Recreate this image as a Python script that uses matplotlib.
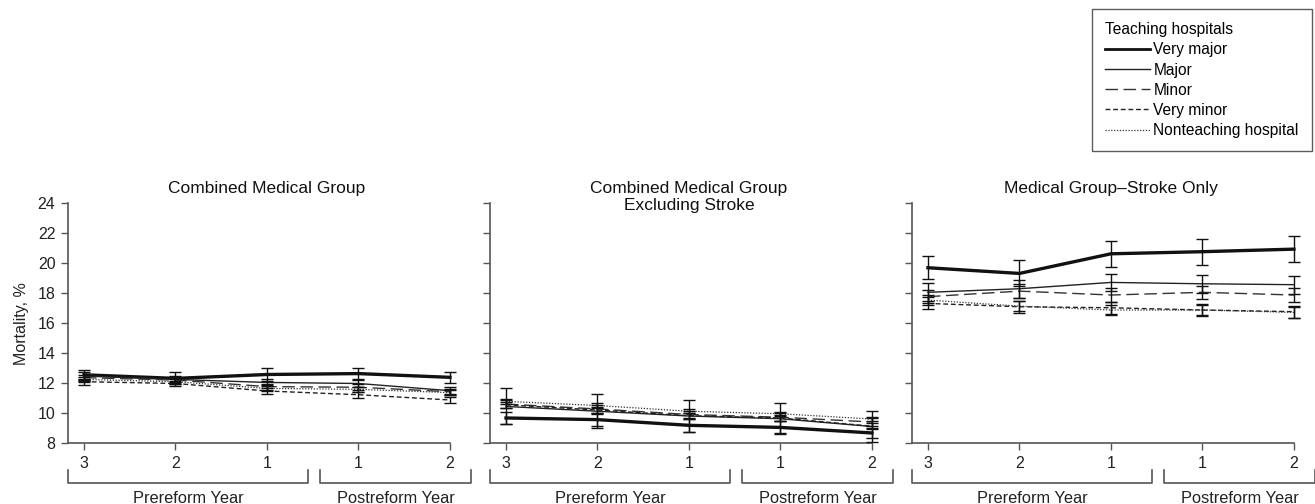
import numpy as np
import matplotlib.pyplot as plt
from matplotlib.lines import Line2D
import matplotlib.transforms as mtransforms

plt.rcParams['font.family'] = ['Liberation Sans', 'DejaVu Sans']

# Data
years = ['3', '2', '1', '1', '2']
groups = ['Very major', 'Major', 'Minor', 'Very minor', 'Nonteaching hospital']
titles = ['Combined Medical Group',
          'Combined Medical Group\nExcluding Stroke',
          'Medical Group\u2013Stroke Only']

# Combined Medical Group
p1_very_major = [12.55, 12.31, 12.57, 12.63, 12.38]
p1_major = [12.47, 12.24, 12.04, 11.97, 11.49]
p1_minor = [12.36, 12.20, 11.76, 11.72, 11.42]
p1_very_minor = [12.09, 11.97, 11.47, 11.22, 10.87]
p1_nonteaching = [12.24, 12.09, 11.64, 11.58, 11.36]
p1_err = [[0.35, 0.40, 0.42, 0.38, 0.37],
          [0.25, 0.20, 0.20, 0.22, 0.22],
          [0.20, 0.20, 0.20, 0.20, 0.20],
          [0.20, 0.18, 0.20, 0.20, 0.20],
          [0.15, 0.15, 0.15, 0.15, 0.15]]

# Combined Medical Group Excluding Stroke
p2_very_major = [9.67, 9.56, 9.18, 9.04, 8.67]
p2_major = [10.44, 10.12, 9.80, 9.62, 9.10]
p2_minor = [10.60, 10.27, 9.90, 9.72, 9.40]
p2_very_minor = [10.55, 10.20, 9.82, 9.67, 9.12]
p2_nonteaching = [10.78, 10.50, 10.12, 9.95, 9.60]
p2_err = [[0.40, 0.40, 0.45, 0.40, 0.35],
          [1.20, 1.15, 1.05, 1.05, 1.05],
          [0.25, 0.25, 0.25, 0.25, 0.25],
          [0.20, 0.20, 0.20, 0.20, 0.20],
          [0.15, 0.15, 0.15, 0.15, 0.15]]

# Medical Group-Stroke Only
p3_very_major = [19.69, 19.31, 20.62, 20.76, 20.93]
p3_major = [18.05, 18.29, 18.71, 18.62, 18.56]
p3_minor = [17.76, 18.13, 17.87, 18.05, 17.87]
p3_very_minor = [17.31, 17.09, 17.02, 16.87, 16.76]
p3_nonteaching = [17.53, 17.13, 16.87, 16.87, 16.71]
p3_err = [[0.75, 0.87, 0.87, 0.86, 0.85],
          [0.60, 0.60, 0.58, 0.60, 0.60],
          [0.45, 0.45, 0.45, 0.45, 0.45],
          [0.40, 0.40, 0.40, 0.40, 0.40],
          [0.35, 0.35, 0.35, 0.35, 0.35]]

panels = [
    ([p1_very_major, p1_major, p1_minor, p1_very_minor, p1_nonteaching], p1_err),
    ([p2_very_major, p2_major, p2_minor, p2_very_minor, p2_nonteaching], p2_err),
    ([p3_very_major, p3_major, p3_minor, p3_very_minor, p3_nonteaching], p3_err),
]

styles = [
    dict(color='#111111', lw=2.4, ls='-'),
    dict(color='#222222', lw=1.0, ls='-'),
    dict(color='#333333', lw=1.0, ls=(0, (9, 4))),
    dict(color='#222222', lw=1.0, ls=(0, (3.5, 2))),
    dict(color='#333333', lw=0.9, ls=(0, (1, 1.3))),
]

fig = plt.figure(figsize=(13.15, 5.04), dpi=100)
lefts = [0.0517, 0.3726, 0.6935]
x = np.arange(len(years))
spine_col = '#555555'

for i, (series, errs) in enumerate(panels):
    ax = fig.add_axes([lefts[i], 0.121, 0.2905, 0.476])
    for vals, err, st in zip(series, errs, styles):
        ax.plot(x, vals, color=st['color'], lw=st['lw'], ls=st['ls'], clip_on=False, zorder=3)
        ax.errorbar(x, vals, yerr=err, fmt='none', ecolor='#111111', elinewidth=1.0,
                    capsize=4, capthick=1.0, clip_on=False, zorder=4)
    ax.set_xlim(-0.175, 4)
    ax.set_ylim(8, 24)
    ax.set_yticks(range(8, 25, 2))
    ax.set_xticks(x)
    ax.set_xticklabels(years)
    for s in ['top', 'right']:
        ax.spines[s].set_visible(False)
    for s in ['left', 'bottom']:
        ax.spines[s].set_color(spine_col)
        ax.spines[s].set_linewidth(1.2)
    ax.tick_params(direction='out', length=5, width=1, color=spine_col,
                   labelsize=11.5, pad=4, labelcolor='#222222')
    if i == 0:
        ax.set_ylabel('Mortality, %', fontsize=11.5, color='#222222', labelpad=6)
    else:
        ax.tick_params(axis='y', labelleft=False)

    trans = mtransforms.blended_transform_factory(ax.transData, ax.transAxes)
    ax.text(2, 1.092, titles[i], transform=trans, ha='center', va='top',
            fontsize=12.5, color='#111111', linespacing=1.2)

    # brackets under the year ticks
    y_top, y_bot = -0.112, -0.167
    for x0, x1, lab in [(-0.175, 2.45, 'Prereform Year'), (2.58, 4.23, 'Postreform Year')]:
        ax.plot([x0, x0, x1, x1], [y_top, y_bot, y_bot, y_top], transform=trans,
                color=spine_col, lw=1.2, clip_on=False)
        ax.text((x0 + x1) / 2, -0.232, lab, transform=trans, ha='center', va='center',
                fontsize=11.8, color='#222222')

handles = [Line2D([], [], color=st['color'], lw=st['lw'], ls=st['ls']) for st in styles]
handles[0].set_linewidth(2.0)
leg = fig.legend(handles, groups, title='Teaching hospitals', loc='upper right',
                 bbox_to_anchor=(0.9977, 0.982), frameon=True, fancybox=False,
                 fontsize=11.2, title_fontsize=11.2, handlelength=2.9,
                 handletextpad=0.2, labelspacing=0.33, borderpad=0.85,
                 alignment='left', borderaxespad=0)
leg.get_frame().set_edgecolor('#333333')
leg.get_frame().set_linewidth(1.0)

fig.savefig('out.png', dpi=100)
